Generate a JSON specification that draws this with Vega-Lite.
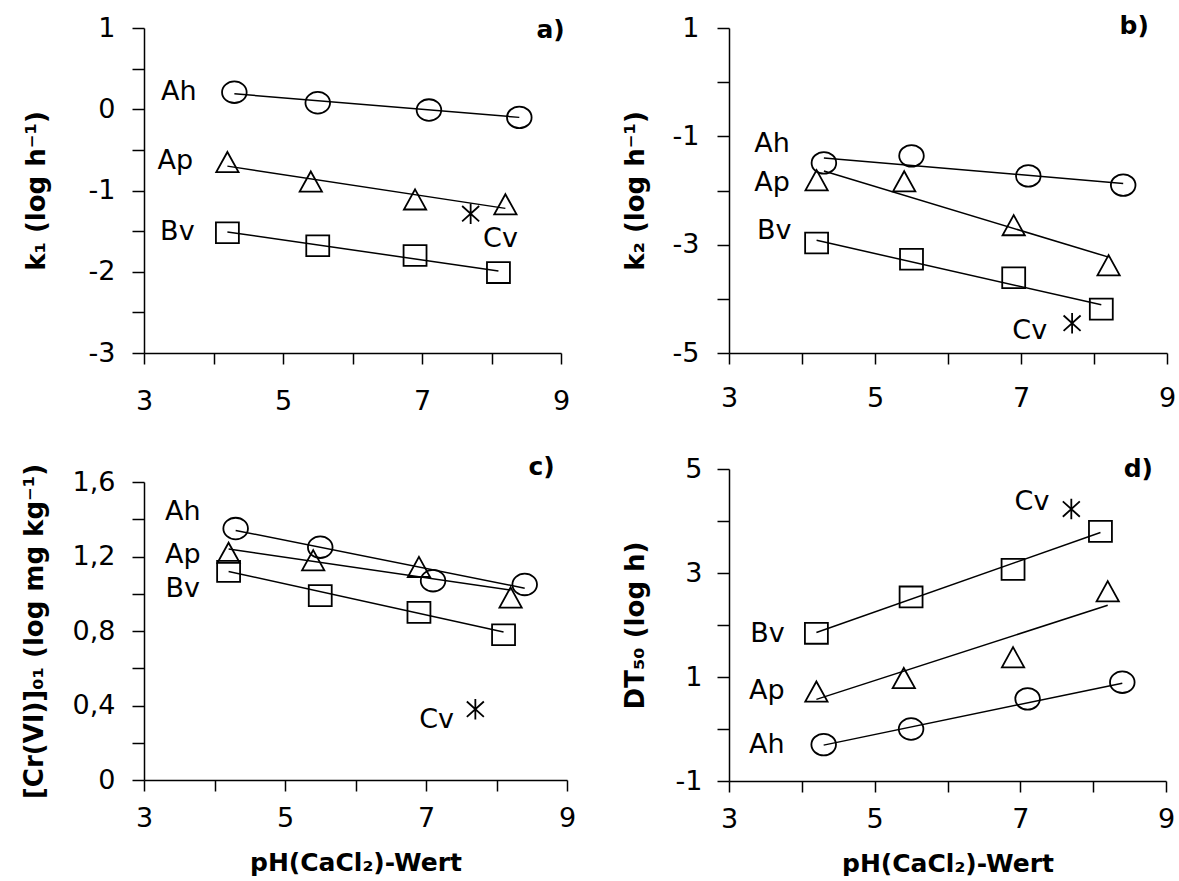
{
  "$schema": "https://vega.github.io/schema/vega-lite/v6.json",
  "padding": {"left": 21, "top": 14, "right": 0, "bottom": 0},
  "background": "white",
  "align": "none",
  "datasets": {
    "pts": [
      {"p": "a", "s": "Ah", "x": 4.3, "y": 0.21}, {"p": "a", "s": "Ah", "x": 5.5, "y": 0.08}, {"p": "a", "s": "Ah", "x": 7.1, "y": -0.01}, {"p": "a", "s": "Ah", "x": 8.4, "y": -0.10},
      {"p": "a", "s": "Ap", "x": 4.2, "y": -0.65}, {"p": "a", "s": "Ap", "x": 5.4, "y": -0.89}, {"p": "a", "s": "Ap", "x": 6.9, "y": -1.11}, {"p": "a", "s": "Ap", "x": 8.2, "y": -1.17},
      {"p": "a", "s": "Bv", "x": 4.2, "y": -1.52}, {"p": "a", "s": "Bv", "x": 5.5, "y": -1.68}, {"p": "a", "s": "Bv", "x": 6.9, "y": -1.80}, {"p": "a", "s": "Bv", "x": 8.1, "y": -2.01},
      {"p": "a", "s": "Cv", "x": 7.7, "y": -1.285},
      {"p": "b", "s": "Ah", "x": 4.3, "y": -1.49}, {"p": "b", "s": "Ah", "x": 5.5, "y": -1.36}, {"p": "b", "s": "Ah", "x": 7.1, "y": -1.73}, {"p": "b", "s": "Ah", "x": 8.4, "y": -1.90},
      {"p": "b", "s": "Ap", "x": 4.2, "y": -1.81}, {"p": "b", "s": "Ap", "x": 5.4, "y": -1.83}, {"p": "b", "s": "Ap", "x": 6.9, "y": -2.64}, {"p": "b", "s": "Ap", "x": 8.2, "y": -3.38},
      {"p": "b", "s": "Bv", "x": 4.2, "y": -2.97}, {"p": "b", "s": "Bv", "x": 5.5, "y": -3.27}, {"p": "b", "s": "Bv", "x": 6.9, "y": -3.61}, {"p": "b", "s": "Bv", "x": 8.1, "y": -4.19},
      {"p": "b", "s": "Cv", "x": 7.7, "y": -4.45},
      {"p": "c", "s": "Ah", "x": 4.3, "y": 1.35}, {"p": "c", "s": "Ah", "x": 5.5, "y": 1.25}, {"p": "c", "s": "Ah", "x": 7.1, "y": 1.07}, {"p": "c", "s": "Ah", "x": 8.4, "y": 1.05},
      {"p": "c", "s": "Ap", "x": 4.2, "y": 1.22}, {"p": "c", "s": "Ap", "x": 5.4, "y": 1.18}, {"p": "c", "s": "Ap", "x": 6.9, "y": 1.144}, {"p": "c", "s": "Ap", "x": 8.2, "y": 0.98},
      {"p": "c", "s": "Bv", "x": 4.2, "y": 1.12}, {"p": "c", "s": "Bv", "x": 5.5, "y": 0.99}, {"p": "c", "s": "Bv", "x": 6.9, "y": 0.90}, {"p": "c", "s": "Bv", "x": 8.1, "y": 0.78},
      {"p": "c", "s": "Cv", "x": 7.7, "y": 0.38},
      {"p": "d", "s": "Ah", "x": 4.3, "y": -0.30}, {"p": "d", "s": "Ah", "x": 5.5, "y": 0.0}, {"p": "d", "s": "Ah", "x": 7.1, "y": 0.58}, {"p": "d", "s": "Ah", "x": 8.4, "y": 0.90},
      {"p": "d", "s": "Ap", "x": 4.2, "y": 0.72}, {"p": "d", "s": "Ap", "x": 5.4, "y": 0.98}, {"p": "d", "s": "Ap", "x": 6.9, "y": 1.38}, {"p": "d", "s": "Ap", "x": 8.2, "y": 2.65},
      {"p": "d", "s": "Bv", "x": 4.2, "y": 1.84}, {"p": "d", "s": "Bv", "x": 5.5, "y": 2.54}, {"p": "d", "s": "Bv", "x": 6.9, "y": 3.07}, {"p": "d", "s": "Bv", "x": 8.1, "y": 3.80},
      {"p": "d", "s": "Cv", "x": 7.7, "y": 4.23}
    ],
    "fits": [
      {"p": "a", "s": "Ah", "x": 4.3, "y": 0.19}, {"p": "a", "s": "Ah", "x": 8.4, "y": -0.10},
      {"p": "a", "s": "Ap", "x": 4.2, "y": -0.70}, {"p": "a", "s": "Ap", "x": 8.2, "y": -1.22},
      {"p": "a", "s": "Bv", "x": 4.2, "y": -1.51}, {"p": "a", "s": "Bv", "x": 8.1, "y": -1.99},
      {"p": "b", "s": "Ah", "x": 4.3, "y": -1.40}, {"p": "b", "s": "Ah", "x": 8.4, "y": -1.87},
      {"p": "b", "s": "Ap", "x": 4.3, "y": -1.64}, {"p": "b", "s": "Ap", "x": 8.2, "y": -3.23},
      {"p": "b", "s": "Bv", "x": 4.2, "y": -2.92}, {"p": "b", "s": "Bv", "x": 8.1, "y": -4.11},
      {"p": "c", "s": "Ah", "x": 4.3, "y": 1.34}, {"p": "c", "s": "Ah", "x": 8.4, "y": 1.03},
      {"p": "c", "s": "Ap", "x": 4.2, "y": 1.24}, {"p": "c", "s": "Ap", "x": 8.2, "y": 1.02},
      {"p": "c", "s": "Bv", "x": 4.2, "y": 1.12}, {"p": "c", "s": "Bv", "x": 8.1, "y": 0.795},
      {"p": "d", "s": "Ah", "x": 4.3, "y": -0.31}, {"p": "d", "s": "Ah", "x": 8.4, "y": 0.88},
      {"p": "d", "s": "Ap", "x": 4.2, "y": 0.57}, {"p": "d", "s": "Ap", "x": 8.2, "y": 2.38},
      {"p": "d", "s": "Bv", "x": 4.2, "y": 1.855}, {"p": "d", "s": "Bv", "x": 8.1, "y": 3.78}
    ],
    "labs": [
      {"p": "a", "t": "Ah", "x": 3.50, "y": 0.21}, {"p": "a", "t": "Ap", "x": 3.45, "y": -0.64}, {"p": "a", "t": "Bv", "x": 3.48, "y": -1.51}, {"p": "a", "t": "Cv", "x": 8.13, "y": -1.60},
      {"p": "b", "t": "Ah", "x": 3.59, "y": -1.15}, {"p": "b", "t": "Ap", "x": 3.59, "y": -1.86}, {"p": "b", "t": "Bv", "x": 3.62, "y": -2.75}, {"p": "b", "t": "Cv", "x": 7.12, "y": -4.59},
      {"p": "c", "t": "Ah", "x": 3.55, "y": 1.439}, {"p": "c", "t": "Ap", "x": 3.55, "y": 1.207}, {"p": "c", "t": "Bv", "x": 3.55, "y": 1.028}, {"p": "c", "t": "Cv", "x": 7.15, "y": 0.322},
      {"p": "d", "t": "Bv", "x": 3.53, "y": 1.82}, {"p": "d", "t": "Ap", "x": 3.52, "y": 0.74}, {"p": "d", "t": "Ah", "x": 3.52, "y": -0.30}, {"p": "d", "t": "Cv", "x": 7.16, "y": 4.36}
    ],
    "tags": [
      {"p": "a", "t": "a)", "x": 8.85, "y": 0.98},
      {"p": "b", "t": "b)", "x": 8.55, "y": 1.03},
      {"p": "c", "t": "c)", "x": 8.64, "y": 1.68},
      {"p": "d", "t": "d)", "x": 8.62, "y": 5.0}
    ]
  },
  "columns": 2,
  "spacing": {"row": 41, "column": 46},
  "concat": [
    {
      "width": 417, "height": 325,
      "encoding": {
        "x": {"field": "x", "type": "quantitative", "scale": {"domain": [3, 9], "nice": false, "zero": false},
              "axis": {"title": null, "labelPadding": 24, "values": [3, 4, 5, 6, 7, 8, 9], "labelExpr": "datum.value % 2 === 1 ? toString(datum.value) : ''"}},
        "y": {"field": "y", "type": "quantitative", "scale": {"domain": [-3, 1], "nice": false, "zero": false},
              "axis": {"title": "k₁ (log h⁻¹)", "titlePadding": 39, "labelPadding": 17, "values": [-3, -2.5, -2, -1.5, -1, -0.5, 0, 0.5, 1], "labelExpr": "datum.value % 1 === 0 ? toString(datum.value) : ''"}}
      },
      "layer": [
        {"data": {"name": "fits"}, "transform": [{"filter": "datum.p === 'a'"}], "mark": {"type": "line", "color": "black", "strokeWidth": 1.5}, "encoding": {"detail": {"field": "s"}}},
        {"data": {"name": "pts"}, "transform": [{"filter": "datum.p === 'a'"}], "mark": {"type": "point", "filled": false, "color": "black", "strokeWidth": 1.8, "opacity": 1},
         "encoding": {"shape": {"field": "s", "type": "nominal", "scale": {"domain": ["Ah", "Ap", "Bv", "Cv"], "range": ["M1.14,0A1.14,1,0,1,1,-1.14,0A1.14,1,0,1,1,1.14,0Z", "M0,-0.95L1.05,0.95L-1.05,0.95Z", "M-1.1,-1L1.1,-1L1.1,1L-1.1,1Z", "M0,-1L0,1M-0.83,-0.75L0.83,0.75M-0.83,0.75L0.83,-0.75"]}, "legend": null},
                      "size": {"field": "s", "type": "nominal", "scale": {"domain": ["Ah", "Ap", "Bv", "Cv"], "range": [466, 420, 296, 400]}, "legend": null}}},
        {"data": {"name": "labs"}, "transform": [{"filter": "datum.p === 'a'"}], "mark": {"type": "text", "font": "DejaVu Sans", "fontSize": 27, "color": "black"}, "encoding": {"text": {"field": "t"}}},
        {"data": {"name": "tags"}, "transform": [{"filter": "datum.p === 'a'"}], "mark": {"type": "text", "font": "DejaVu Sans", "fontSize": 25, "fontWeight": "bold", "color": "black"}, "encoding": {"text": {"field": "t"}}}
      ]
    },
    {
      "width": 438, "height": 325,
      "encoding": {
        "x": {"field": "x", "type": "quantitative", "scale": {"domain": [3, 9], "nice": false, "zero": false},
              "axis": {"title": null, "labelPadding": 21, "values": [3, 4, 5, 6, 7, 8, 9], "labelExpr": "datum.value % 2 === 1 ? toString(datum.value) : ''"}},
        "y": {"field": "y", "type": "quantitative", "scale": {"domain": [-5, 1], "nice": false, "zero": false},
              "axis": {"title": "k₂ (log h⁻¹)", "titlePadding": 24, "labelPadding": 18, "values": [-5, -4, -3, -2, -1, 0, 1], "labelExpr": "abs(datum.value) % 2 === 1 ? toString(datum.value) : ''"}}
      },
      "layer": [
        {"data": {"name": "fits"}, "transform": [{"filter": "datum.p === 'b'"}], "mark": {"type": "line", "color": "black", "strokeWidth": 1.5}, "encoding": {"detail": {"field": "s"}}},
        {"data": {"name": "pts"}, "transform": [{"filter": "datum.p === 'b'"}], "mark": {"type": "point", "filled": false, "color": "black", "strokeWidth": 1.8, "opacity": 1},
         "encoding": {"shape": {"field": "s", "type": "nominal", "scale": {"domain": ["Ah", "Ap", "Bv", "Cv"], "range": ["M1.14,0A1.14,1,0,1,1,-1.14,0A1.14,1,0,1,1,1.14,0Z", "M0,-0.95L1.05,0.95L-1.05,0.95Z", "M-1.1,-1L1.1,-1L1.1,1L-1.1,1Z", "M0,-1L0,1M-0.83,-0.75L0.83,0.75M-0.83,0.75L0.83,-0.75"]}, "legend": null},
                      "size": {"field": "s", "type": "nominal", "scale": {"domain": ["Ah", "Ap", "Bv", "Cv"], "range": [466, 420, 296, 400]}, "legend": null}}},
        {"data": {"name": "labs"}, "transform": [{"filter": "datum.p === 'b'"}], "mark": {"type": "text", "font": "DejaVu Sans", "fontSize": 27, "color": "black"}, "encoding": {"text": {"field": "t"}}},
        {"data": {"name": "tags"}, "transform": [{"filter": "datum.p === 'b'"}], "mark": {"type": "text", "font": "DejaVu Sans", "fontSize": 25, "fontWeight": "bold", "color": "black"}, "encoding": {"text": {"field": "t"}}}
      ]
    },
    {
      "width": 423, "height": 298,
      "encoding": {
        "x": {"field": "x", "type": "quantitative", "scale": {"domain": [3, 9], "nice": false, "zero": false},
              "axis": {"title": "pH(CaCl₂)-Wert", "labelPadding": 14, "values": [3, 4, 5, 6, 7, 8, 9], "labelExpr": "datum.value % 2 === 1 ? toString(datum.value) : ''"}},
        "y": {"field": "y", "type": "quantitative", "scale": {"domain": [0, 1.6], "nice": false, "zero": false},
              "axis": {"title": "[Cr(VI)]₀₁ (log mg kg⁻¹)", "titlePadding": 25, "labelPadding": 17, "values": [0, 0.2, 0.4, 0.6, 0.8, 1.0, 1.2, 1.4, 1.6], "labelExpr": "round(datum.value * 10) % 4 === 0 ? (datum.value === 0 ? '0' : replace(format(datum.value, '.1f'), '.', ',')) : ''"}}
      },
      "layer": [
        {"data": {"name": "fits"}, "transform": [{"filter": "datum.p === 'c'"}], "mark": {"type": "line", "color": "black", "strokeWidth": 1.5}, "encoding": {"detail": {"field": "s"}}},
        {"data": {"name": "pts"}, "transform": [{"filter": "datum.p === 'c'"}], "mark": {"type": "point", "filled": false, "color": "black", "strokeWidth": 1.8, "opacity": 1},
         "encoding": {"shape": {"field": "s", "type": "nominal", "scale": {"domain": ["Ah", "Ap", "Bv", "Cv"], "range": ["M1.14,0A1.14,1,0,1,1,-1.14,0A1.14,1,0,1,1,1.14,0Z", "M0,-0.95L1.05,0.95L-1.05,0.95Z", "M-1.1,-1L1.1,-1L1.1,1L-1.1,1Z", "M0,-1L0,1M-0.83,-0.75L0.83,0.75M-0.83,0.75L0.83,-0.75"]}, "legend": null},
                      "size": {"field": "s", "type": "nominal", "scale": {"domain": ["Ah", "Ap", "Bv", "Cv"], "range": [466, 420, 296, 400]}, "legend": null}}},
        {"data": {"name": "labs"}, "transform": [{"filter": "datum.p === 'c'"}], "mark": {"type": "text", "font": "DejaVu Sans", "fontSize": 27, "color": "black"}, "encoding": {"text": {"field": "t"}}},
        {"data": {"name": "tags"}, "transform": [{"filter": "datum.p === 'c'"}], "mark": {"type": "text", "font": "DejaVu Sans", "fontSize": 25, "fontWeight": "bold", "color": "black"}, "encoding": {"text": {"field": "t"}}}
      ]
    },
    {
      "width": 437, "height": 312,
      "encoding": {
        "x": {"field": "x", "type": "quantitative", "scale": {"domain": [3, 9], "nice": false, "zero": false},
              "axis": {"title": "pH(CaCl₂)-Wert", "labelPadding": 14, "values": [3, 4, 5, 6, 7, 8, 9], "labelExpr": "datum.value % 2 === 1 ? toString(datum.value) : ''"}},
        "y": {"field": "y", "type": "quantitative", "scale": {"domain": [-1, 5], "nice": false, "zero": false},
              "axis": {"title": "DT₅₀ (log h)", "titlePadding": 27, "labelPadding": 15, "values": [-1, 0, 1, 2, 3, 4, 5], "labelExpr": "abs(datum.value) % 2 === 1 ? toString(datum.value) : ''"}}
      },
      "layer": [
        {"data": {"name": "fits"}, "transform": [{"filter": "datum.p === 'd'"}], "mark": {"type": "line", "color": "black", "strokeWidth": 1.5}, "encoding": {"detail": {"field": "s"}}},
        {"data": {"name": "pts"}, "transform": [{"filter": "datum.p === 'd'"}], "mark": {"type": "point", "filled": false, "color": "black", "strokeWidth": 1.8, "opacity": 1},
         "encoding": {"shape": {"field": "s", "type": "nominal", "scale": {"domain": ["Ah", "Ap", "Bv", "Cv"], "range": ["M1.14,0A1.14,1,0,1,1,-1.14,0A1.14,1,0,1,1,1.14,0Z", "M0,-0.95L1.05,0.95L-1.05,0.95Z", "M-1.1,-1L1.1,-1L1.1,1L-1.1,1Z", "M0,-1L0,1M-0.83,-0.75L0.83,0.75M-0.83,0.75L0.83,-0.75"]}, "legend": null},
                      "size": {"field": "s", "type": "nominal", "scale": {"domain": ["Ah", "Ap", "Bv", "Cv"], "range": [466, 420, 296, 400]}, "legend": null}}},
        {"data": {"name": "labs"}, "transform": [{"filter": "datum.p === 'd'"}], "mark": {"type": "text", "font": "DejaVu Sans", "fontSize": 27, "color": "black"}, "encoding": {"text": {"field": "t"}}},
        {"data": {"name": "tags"}, "transform": [{"filter": "datum.p === 'd'"}], "mark": {"type": "text", "font": "DejaVu Sans", "fontSize": 25, "fontWeight": "bold", "color": "black"}, "encoding": {"text": {"field": "t"}}}
      ]
    }
  ],
  "config": {
    "view": {"stroke": null},
    "axis": {
      "grid": false,
      "domainColor": "black", "domainWidth": 1.5,
      "tickColor": "black", "tickWidth": 1.5,
      "labelFont": "DejaVu Sans", "labelFontSize": 27, "labelColor": "black",
      "titleFont": "DejaVu Sans", "titleFontWeight": "bold", "titleColor": "black",
      "labelOverlap": false, "labelFlush": false
    },
    "axisX": {"tickSize": 11, "titlePadding": 19, "titleFontSize": 25},
    "axisY": {"tickSize": 12, "titleFontSize": 26}
  }
}
